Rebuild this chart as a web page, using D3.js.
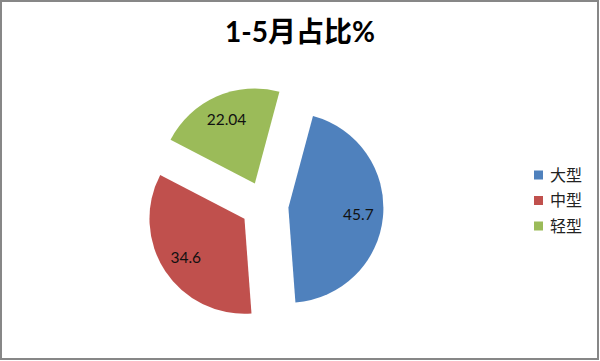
<!DOCTYPE html>
<html>
<head>
<meta charset="utf-8">
<script src="https://cdn.jsdelivr.net/npm/d3@7"></script>
<style>
  html, body { margin: 0; padding: 0; background: #fff; }
  svg { display: block; }
</style>
</head>
<body>
<svg id="chart"></svg>
<script>
const title = "1-5月占比%";
const categories = ["大型", "中型", "轻型"];
const values = [45.7, 34.6, 22.04];
const colors = ["#4F81BD", "#C0504D", "#9BBB59"];

const width = 600;
const height = 361;

const svg = d3.select("#chart")
  .attr("width", width)
  .attr("height", height);

// outer frame
svg.append("rect")
  .attr("x", 1)
  .attr("y", 1)
  .attr("width", width - 3)
  .attr("height", height - 3)
  .attr("fill", "#fff")
  .attr("stroke", "#878787")
  .attr("stroke-width", 2);

svg.append("text")
  .attr("x", width / 2)
  .attr("y", 42)
  .attr("text-anchor", "middle")
  .style("font-family", "Lato, 'Noto Sans CJK SC', sans-serif")
  .style("font-weight", "bold")
  .style("font-size", "28px")
  .attr("fill", "#000")
  .text(title);

// pie, first slice rotated a bit like the original
const cx = 264.5, cy = 205.5;
const radius = 95;
const explode = 24;
const rot = 15 * Math.PI / 180;

const data = categories.map((c, i) => ({ name: c, value: values[i], color: colors[i] }));

const pie = d3.pie()
  .sort(null)
  .value(d => d.value)
  .startAngle(rot)
  .endAngle(rot + 2 * Math.PI);

const arc = d3.arc().innerRadius(0).outerRadius(radius);
const labelArc = d3.arc().innerRadius(radius * 0.74).outerRadius(radius * 0.74);

const arcs = pie(data);

const slices = svg.append("g")
  .attr("transform", `translate(${cx},${cy})`)
  .selectAll(".slice")
  .data(arcs)
  .enter()
  .append("g")
  .attr("class", "slice")
  .attr("transform", function (d) {
    const mid = (d.startAngle + d.endAngle) / 2;
    return `translate(${Math.sin(mid) * explode},${-Math.cos(mid) * explode})`;
  });

slices.append("path")
  .attr("d", arc)
  .attr("fill", d => d.data.color);

slices.append("text")
  .attr("transform", d => `translate(${labelArc.centroid(d)})`)
  .attr("text-anchor", "middle")
  .attr("dy", "0.36em")
  .style("font-family", "Lato, sans-serif")
  .style("font-size", "15.5px")
  .attr("fill", "#111")
  .text(d => d.data.value);

// legend
const legend = svg.append("g")
  .attr("transform", "translate(534,175)");

const item = legend.selectAll(".item")
  .data(data)
  .enter()
  .append("g")
  .attr("class", "item")
  .attr("transform", (d, i) => `translate(0,${i * 25.5})`);

item.append("rect")
  .attr("x", 0)
  .attr("y", -4.5)
  .attr("width", 9)
  .attr("height", 9)
  .attr("fill", d => d.color);

item.append("text")
  .attr("x", 16)
  .attr("y", 0)
  .attr("dy", "0.36em")
  .style("font-family", "'Noto Sans CJK SC', sans-serif")
  .style("font-size", "16px")
  .attr("fill", "#222")
  .text(d => d.name);
</script>
</body>
</html>
